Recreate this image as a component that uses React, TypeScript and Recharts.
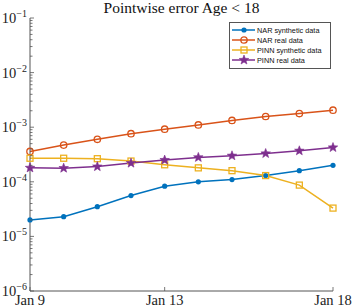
import React from "react";
import { LineChart, Line, XAxis, YAxis } from "recharts";

const days = ["Jan 9", "Jan 10", "Jan 11", "Jan 12", "Jan 13", "Jan 14", "Jan 15", "Jan 16", "Jan 17", "Jan 18"];
const narSynthetic = [2.0e-5, 2.3e-5, 3.5e-5, 5.6e-5, 8.3e-5, 1.0e-4, 1.1e-4, 1.3e-4, 1.6e-4, 2.0e-4];
const narReal = [3.6e-4, 4.7e-4, 6.0e-4, 7.6e-4, 9.2e-4, 1.1e-3, 1.33e-3, 1.57e-3, 1.78e-3, 2.05e-3];
const pinnSynthetic = [2.7e-4, 2.7e-4, 2.65e-4, 2.4e-4, 2.05e-4, 1.8e-4, 1.6e-4, 1.3e-4, 8.7e-5, 3.3e-5];
const pinnReal = [1.8e-4, 1.78e-4, 1.9e-4, 2.2e-4, 2.5e-4, 2.8e-4, 3.0e-4, 3.3e-4, 3.7e-4, 4.25e-4];

const xTicks = [0, 4, 9];
const yExponents = [-6, -5, -4, -3, -2, -1];
const yMajor = yExponents.map((e) => Math.pow(10, e));
const yMinor = yExponents.slice(0, -1).flatMap((e) => [2, 3, 4, 5, 6, 7, 8, 9].map((m) => m * Math.pow(10, e)));
const yAllTicks = [...yMajor, ...yMinor];

const AX = "#555";
const SERIF = "'Liberation Serif', serif";
const SANS = "'Liberation Sans', Arial, sans-serif";

type Marker = "dot" | "circle" | "square" | "star";
const series: { key: string; name: string; color: string; marker: Marker }[] = [
  { key: "narSyn", name: "NAR synthetic data", color: "#0072BD", marker: "dot" },
  { key: "narReal", name: "NAR real data", color: "#D95319", marker: "circle" },
  { key: "pinnSyn", name: "PINN synthetic data", color: "#EDB120", marker: "square" },
  { key: "pinnReal", name: "PINN real data", color: "#7E2F8E", marker: "star" },
];

const data = days.map((_, i) => ({
  x: i,
  narSyn: narSynthetic[i],
  narReal: narReal[i],
  pinnSyn: pinnSynthetic[i],
  pinnReal: pinnReal[i],
}));

function starPath(cx: number, cy: number, r: number) {
  const pts: string[] = [];
  for (let k = 0; k < 10; k++) {
    const rr = k % 2 === 0 ? r : r * 0.42;
    const a = -Math.PI / 2 + (k * Math.PI) / 5;
    pts.push(`${cx + rr * Math.cos(a)},${cy + rr * Math.sin(a)}`);
  }
  return "M" + pts.join("L") + "Z";
}

function MarkerShape({ cx, cy, color, marker }: { cx: number; cy: number; color: string; marker: Marker }) {
  if (marker === "dot") return <circle cx={cx} cy={cy} r={2.6} fill={color} stroke="none" />;
  if (marker === "circle") return <circle cx={cx} cy={cy} r={3.2} fill="none" stroke={color} strokeWidth={1.3} />;
  if (marker === "square") return <rect x={cx - 3} y={cy - 3} width={6} height={6} fill="none" stroke={color} strokeWidth={1.3} />;
  return <path d={starPath(cx, cy, 5)} fill={color} stroke={color} strokeWidth={0.6} />;
}

const isMajor = (v: number) => yMajor.some((m) => Math.abs(m - v) / m < 1e-6);

function LeftTick(props: any) {
  const { x, y, payload } = props;
  const major = isMajor(payload.value);
  const exp = Math.round(Math.log10(payload.value));
  return (
    <g>
      <line x1={x} x2={x + (major ? 4 : 2.5)} y1={y} y2={y} stroke={AX} strokeWidth={0.8} />
      {major && (
        <text x={x - 3} y={y} dy="0.35em" textAnchor="end" fontFamily={SERIF} fontSize={14.5} fill="#222">
          10
          <tspan dy={-6} fontSize={10}>{"\u2212" + Math.abs(exp)}</tspan>
        </text>
      )}
    </g>
  );
}

function RightTick(props: any) {
  const { x, y, payload } = props;
  const major = isMajor(payload.value);
  return <line x1={x} x2={x - (major ? 4 : 2.5)} y1={y} y2={y} stroke={AX} strokeWidth={0.8} />;
}

function BottomTick(props: any) {
  const { x, y, payload } = props;
  return (
    <g>
      <line x1={x} x2={x} y1={y} y2={y - 4} stroke={AX} strokeWidth={0.8} />
      <text x={x} y={y + 14} textAnchor="middle" fontFamily={SERIF} fontSize={14.5} fill="#222">
        {days[payload.value]}
      </text>
    </g>
  );
}

function TopTick(props: any) {
  const { x, y } = props;
  return <line x1={x} x2={x} y1={y} y2={y + 4} stroke={AX} strokeWidth={0.8} />;
}

function LegendBox() {
  return (
    <div
      style={{
        position: "absolute",
        left: 229,
        top: 22,
        border: `1px solid ${AX}`,
        background: "#fff",
        width: 100,
        padding: "2px 0 3px",
        fontFamily: SANS,
        fontSize: 7.3,
        color: "#111",
        zIndex: 2,
      }}
    >
      {series.map((s) => (
        <div key={s.key} style={{ display: "flex", alignItems: "center", height: 10 }}>
          <svg width={27} height={10} style={{ flex: "none" }}>
            <line x1={2} x2={25} y1={5} y2={5} stroke={s.color} strokeWidth={1.5} />
            <MarkerShape cx={14} cy={5} color={s.color} marker={s.marker} />
          </svg>
          <span style={{ whiteSpace: "nowrap" }}>{s.name}</span>
        </div>
      ))}
    </div>
  );
}

export default function App() {
  return (
    <div style={{ position: "relative", width: 354, height: 308, background: "#fff" }}>
      <style>{`body{margin:0}`}</style>
      <div
        style={{
          position: "absolute",
          left: 30,
          width: 303,
          top: -1,
          textAlign: "center",
          fontFamily: SERIF,
          fontSize: 15.5,
          color: "#111",
          zIndex: 2,
        }}
      >
        Pointwise error Age &lt; 18
      </div>
      <LegendBox />
      <LineChart width={354} height={308} data={data} margin={{ top: 18, right: 21, bottom: 0, left: 0 }}>
        <XAxis
          dataKey="x"
          type="number"
          domain={[0, 9]}
          ticks={xTicks}
          height={17}
          tickSize={0}
          tickMargin={0}
          tickLine={false}
          axisLine={{ stroke: AX }}
          tick={BottomTick}
          interval={0}
        />
        <XAxis
          xAxisId="top"
          dataKey="x"
          type="number"
          orientation="top"
          domain={[0, 9]}
          ticks={xTicks}
          height={0}
          tickSize={0}
          tickMargin={0}
          tickLine={false}
          axisLine={{ stroke: AX }}
          tick={TopTick}
          interval={0}
        />
        <YAxis
          scale="log"
          domain={[1e-6, 1e-1]}
          allowDataOverflow
          ticks={yAllTicks}
          width={30}
          tickSize={0}
          tickMargin={0}
          tickLine={false}
          axisLine={{ stroke: AX }}
          tick={LeftTick}
          interval={0}
        />
        <YAxis
          yAxisId="right"
          orientation="right"
          scale="log"
          domain={[1e-6, 1e-1]}
          allowDataOverflow
          ticks={yAllTicks}
          width={0}
          tickSize={0}
          tickMargin={0}
          tickLine={false}
          axisLine={{ stroke: AX }}
          tick={RightTick}
          interval={0}
        />
        {series.map((s) => (
          <Line
            key={s.key}
            dataKey={s.key}
            name={s.name}
            stroke={s.color}
            strokeWidth={1.5}
            isAnimationActive={false}
            dot={(p: any) => <MarkerShape key={p.index} cx={p.cx} cy={p.cy} color={s.color} marker={s.marker} />}
            activeDot={false}
          />
        ))}
      </LineChart>
    </div>
  );
}
